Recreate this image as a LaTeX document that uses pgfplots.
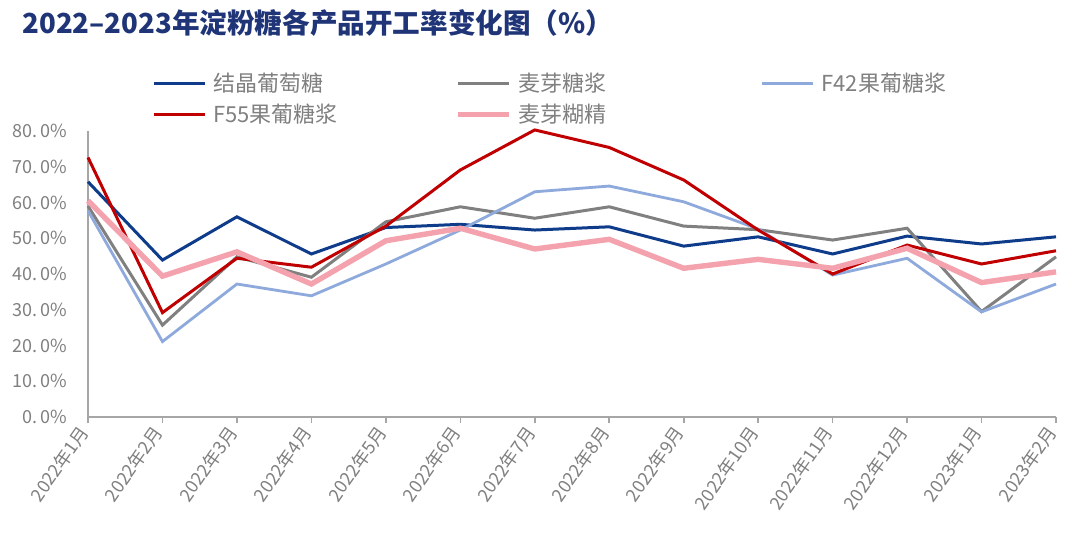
\documentclass[border=0pt]{standalone}
\usepackage{fontspec}
\setmainfont{Noto Sans CJK SC}
\usepackage{pgfplots}
\pgfplotsset{compat=1.18}
\definecolor{cDB}{HTML}{0E3C8A}
\definecolor{cGR}{HTML}{808080}
\definecolor{cLB}{HTML}{8EA9DB}
\definecolor{cRD}{HTML}{C00000}
\definecolor{cPK}{HTML}{F4A3AE}
\definecolor{cTitle}{HTML}{1F3577}
\definecolor{cTxt}{HTML}{808080}
\definecolor{cAx}{HTML}{A6A6A6}
\begin{document}
\begin{tikzpicture}[x=1pt,y=1pt]
\path[fill=white,use as bounding box] (0,0) rectangle (532.5,273);
\node[anchor=west, font=\fontsize{13.8}{14}\selectfont\bfseries, text=cTitle, inner sep=0pt] at (11,261.5) {2022–2023年淀粉糖各产品开工率变化图（\%）};
\begin{axis}[
  at={(44pt,64.5pt)}, anchor=south west,
  scale only axis, width=484pt, height=143pt,
  xmin=0, xmax=13, ymin=0, ymax=80, clip=false,
  axis x line*=bottom, axis y line*=left,
  axis line style={cAx, line width=0.8pt},
  xtick={0,...,13},
  xticklabels={2022年1月,2022年2月,2022年3月,2022年4月,2022年5月,2022年6月,2022年7月,2022年8月,2022年9月,2022年10月,2022年11月,2022年12月,2023年1月,2023年2月},
  xticklabel style={rotate=55, anchor=east, font=\fontsize{9}{9}\selectfont, text=cTxt},
  x tick style={cAx, line width=0.8pt},
  tick align=outside, major tick length=3pt,
  ytick={0,10,...,80},
  yticklabels={0.\,0\%,10.\,0\%,20.\,0\%,30.\,0\%,40.\,0\%,50.\,0\%,60.\,0\%,70.\,0\%,80.\,0\%},
  yticklabel style={font=\fontsize{9}{9}\selectfont, text=cTxt, xshift=-4pt},
  y tick style={draw=none},
  legend columns=3,
  legend style={at={(axis description cs:0.0661,1.206)}, anchor=north west, draw=none, fill=none, inner sep=0pt, column sep=0pt, row sep=4.8pt, nodes={inner sep=0pt}, font=\fontsize{11}{13.2}\selectfont, text=cTxt},
  legend image code/.code={\draw[#1] (0pt,0pt) -- (25.5pt,0pt);},
]
\addplot[cDB, line width=1.5pt] coordinates {(0,65.8)(1,43.9)(2,56.0)(3,45.6)(4,53.0)(5,53.9)(6,52.3)(7,53.2)(8,47.8)(9,50.4)(10,45.6)(11,50.6)(12,48.4)(13,50.4)};
\addlegendentry{\hspace{3.5pt}\makebox[121pt][l]{\strut 结晶葡萄糖}}
\addplot[cGR, line width=1.5pt] coordinates {(0,59.0)(1,25.7)(2,44.8)(3,39.1)(4,54.6)(5,58.8)(6,55.6)(7,58.8)(8,53.4)(9,52.4)(10,49.5)(11,52.8)(12,29.5)(13,44.8)};
\addlegendentry{\hspace{3.5pt}\makebox[121pt][l]{\strut 麦芽糖浆}}
\addplot[cLB, line width=1.4pt] coordinates {(0,57.7)(1,21.1)(2,37.2)(3,33.9)(4,42.8)(5,52.3)(6,63.0)(7,64.6)(8,60.2)(9,52.6)(10,39.7)(11,44.4)(12,29.4)(13,37.2)};
\addlegendentry{\hspace{3.5pt}\strut F42果葡糖浆}
\addplot[cRD, line width=1.5pt] coordinates {(0,72.6)(1,29.2)(2,44.4)(3,41.9)(4,53.4)(5,69.1)(6,80.3)(7,75.4)(8,66.3)(9,52.3)(10,40.0)(11,48.1)(12,42.8)(13,46.5)};
\addlegendentry{\hspace{3.5pt}\makebox[121pt][l]{\strut F55果葡糖浆}}
\addplot[cPK, line width=2.7pt] coordinates {(0,60.5)(1,39.4)(2,46.2)(3,37.2)(4,49.3)(5,52.8)(6,47.0)(7,49.7)(8,41.6)(9,44.1)(10,41.6)(11,47.2)(12,37.6)(13,40.6)};
\addlegendentry{\hspace{3.5pt}\makebox[121pt][l]{\strut 麦芽糊精}}
\end{axis}
\end{tikzpicture}
\end{document}
